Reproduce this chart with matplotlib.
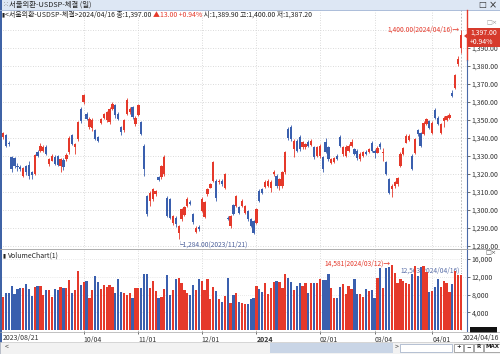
import matplotlib
matplotlib.use('Agg')
import matplotlib.pyplot as plt
from matplotlib.patches import Rectangle, Polygon

plt.rcParams['font.family'] = ['Noto Sans CJK KR', 'DejaVu Sans']

W, H = 500, 354

# 일봉 OHLC (2023/08/21 ~ 2024/04/16)
opens = [1340.5, 1341.4, 1337.5, 1329.3, 1328.7, 1324.6, 1324.0, 1319.1, 1324.6, 1325.2,
         1320.9, 1320.0, 1332.5, 1333.0, 1333.0, 1334.9, 1325.6, 1327.5, 1329.3, 1329.9,
         1324.6, 1328.0, 1328.4, 1332.1, 1341.4, 1335.1, 1339.5, 1355.9, 1360.0, 1353.5,
         1346.1, 1345.5, 1344.2, 1340.5, 1348.5, 1351.1, 1349.8, 1348.8, 1356.3, 1358.2,
         1353.5, 1346.1, 1344.2, 1353.5, 1354.4, 1357.2, 1347.9, 1352.6, 1348.8, 1335.8,
         1307.9, 1305.1, 1306.0, 1308.8, 1318.1, 1318.1, 1320.0, 1306.9, 1306.0, 1292.6,
         1295.8, 1287.4, 1295.2, 1297.3, 1302.3, 1304.6, 1297.6, 1287.8, 1290.7, 1299.5,
         1296.3, 1308.8, 1312.5, 1316.3, 1316.3, 1315.3, 1316.3, 1312.5, 1295.8, 1291.1,
         1302.7, 1302.3, 1301.4, 1302.3, 1298.6, 1299.5, 1294.8, 1293.9, 1293.0, 1310.7,
         1311.6, 1312.9, 1313.5, 1312.5, 1320.0, 1319.1, 1313.5, 1313.5, 1320.9, 1345.1,
         1346.1, 1333.9, 1338.6, 1340.5, 1334.9, 1334.9, 1338.0, 1336.2, 1334.9, 1330.2,
         1330.2, 1329.3, 1337.7, 1334.9, 1326.1, 1326.9, 1330.2, 1340.5, 1331.2, 1330.2,
         1333.0, 1335.8, 1333.9, 1333.0, 1328.4, 1330.2, 1332.5, 1332.1, 1337.3, 1333.0,
         1331.9, 1336.7, 1331.5, 1326.5, 1317.2, 1311.6, 1313.5, 1314.4, 1324.6, 1331.2,
         1337.5, 1338.8, 1330.0, 1331.9, 1344.2, 1342.8, 1342.0, 1347.6, 1349.4, 1343.0,
         1355.3, 1351.3, 1343.0, 1349.2, 1350.0, 1351.0, 1365.0, 1367.9, 1381.1, 1389.9]
highs = [1343.5, 1342.0, 1338.5, 1330.2, 1329.5, 1326.0, 1325.0, 1324.0, 1325.2, 1327.5,
         1321.5, 1331.0, 1333.5, 1337.5, 1336.0, 1336.0, 1329.0, 1331.0, 1330.5, 1330.5,
         1329.0, 1329.0, 1331.5, 1341.0, 1342.0, 1337.0, 1349.5, 1357.0, 1364.5, 1354.5,
         1351.5, 1351.0, 1345.0, 1341.2, 1351.2, 1354.0, 1355.0, 1357.0, 1360.0, 1359.0,
         1354.5, 1346.8, 1350.5, 1362.0, 1357.0, 1358.0, 1352.0, 1359.0, 1349.5, 1336.5,
         1308.5, 1310.5, 1312.5, 1311.2, 1318.8, 1325.2, 1330.5, 1308.0, 1306.8, 1297.5,
         1296.5, 1291.8, 1301.2, 1302.5, 1307.0, 1305.5, 1298.5, 1291.0, 1291.5, 1307.0,
         1305.0, 1312.5, 1315.0, 1327.2, 1317.5, 1317.0, 1317.0, 1320.8, 1296.5, 1297.3,
         1303.5, 1308.6, 1302.0, 1306.0, 1303.0, 1300.2, 1295.5, 1294.5, 1301.0, 1311.5,
         1312.5, 1316.5, 1317.0, 1316.5, 1322.0, 1320.0, 1318.0, 1321.5, 1332.8, 1346.0,
         1347.0, 1339.5, 1339.5, 1341.5, 1338.5, 1337.5, 1339.0, 1339.5, 1335.5, 1335.5,
         1336.5, 1330.0, 1340.0, 1335.5, 1329.0, 1329.5, 1331.0, 1341.5, 1335.5, 1336.0,
         1336.5, 1339.5, 1334.5, 1333.8, 1332.0, 1333.0, 1333.2, 1334.5, 1338.5, 1334.0,
         1335.5, 1338.0, 1334.5, 1327.5, 1318.0, 1314.2, 1316.0, 1318.5, 1332.0, 1335.0,
         1342.0, 1342.0, 1331.0, 1340.2, 1345.0, 1343.5, 1349.2, 1351.0, 1350.0, 1349.2,
         1356.5, 1352.0, 1348.2, 1352.0, 1352.8, 1353.8, 1366.5, 1375.8, 1385.4, 1400.0]
lows = [1339.5, 1335.0, 1335.5, 1321.0, 1323.5, 1321.5, 1321.8, 1318.5, 1319.5, 1317.5,
        1317.2, 1319.5, 1329.5, 1332.5, 1332.0, 1330.5, 1324.5, 1327.0, 1324.8, 1324.5,
        1321.0, 1322.0, 1327.5, 1331.0, 1336.0, 1331.0, 1338.5, 1348.5, 1359.0, 1349.8,
        1345.0, 1344.0, 1338.8, 1338.0, 1348.0, 1350.5, 1349.0, 1348.0, 1355.5, 1351.0,
        1350.0, 1341.5, 1343.5, 1353.0, 1353.5, 1350.5, 1346.5, 1352.0, 1341.5, 1319.0,
        1296.8, 1302.5, 1305.0, 1308.0, 1316.0, 1317.5, 1319.0, 1296.0, 1295.0, 1291.5,
        1290.5, 1284.0, 1294.0, 1296.5, 1301.5, 1302.8, 1292.5, 1287.0, 1288.5, 1298.8,
        1295.5, 1308.0, 1312.0, 1315.5, 1305.0, 1314.5, 1313.5, 1311.8, 1294.5, 1290.2,
        1297.0, 1301.5, 1298.0, 1301.6, 1298.0, 1294.0, 1290.5, 1286.8, 1292.0, 1304.5,
        1309.0, 1312.0, 1312.8, 1310.0, 1319.0, 1312.5, 1311.0, 1312.5, 1320.0, 1339.0,
        1338.5, 1329.5, 1332.0, 1333.0, 1334.0, 1334.0, 1335.0, 1335.5, 1328.5, 1329.5,
        1329.0, 1321.0, 1331.5, 1327.5, 1325.5, 1326.0, 1328.0, 1335.0, 1330.0, 1329.5,
        1332.5, 1335.0, 1330.5, 1328.0, 1327.5, 1329.5, 1330.5, 1331.5, 1332.5, 1329.0,
        1331.5, 1334.0, 1327.0, 1319.5, 1309.0, 1307.0, 1312.5, 1313.5, 1324.0, 1330.5,
        1337.0, 1338.2, 1322.0, 1331.0, 1341.0, 1334.8, 1341.5, 1347.0, 1345.0, 1342.5,
        1350.8, 1347.0, 1342.5, 1346.0, 1349.5, 1350.5, 1362.5, 1367.0, 1380.0, 1387.2]
closes = [1342.7, 1335.8, 1336.6, 1322.8, 1324.6, 1323.7, 1322.8, 1323.3, 1320.9, 1319.1,
          1319.4, 1330.6, 1330.2, 1335.8, 1334.9, 1331.2, 1328.4, 1330.2, 1325.6, 1325.0,
          1328.4, 1323.7, 1330.6, 1339.9, 1336.7, 1336.6, 1348.8, 1349.2, 1363.7, 1350.7,
          1350.7, 1350.0, 1339.5, 1338.6, 1350.7, 1353.5, 1354.4, 1356.3, 1359.1, 1352.6,
          1350.7, 1343.3, 1349.8, 1361.0, 1356.3, 1351.6, 1351.1, 1358.2, 1342.3, 1322.8,
          1297.6, 1309.7, 1311.6, 1310.7, 1316.8, 1324.6, 1329.3, 1296.7, 1295.8, 1296.7,
          1292.0, 1291.1, 1300.4, 1301.7, 1306.0, 1303.6, 1293.4, 1290.2, 1289.3, 1306.0,
          1304.2, 1311.6, 1314.4, 1326.5, 1306.9, 1316.3, 1314.4, 1320.0, 1295.2, 1296.7,
          1297.6, 1307.9, 1298.6, 1305.1, 1302.3, 1294.8, 1291.1, 1287.4, 1300.4, 1305.1,
          1309.7, 1315.7, 1316.3, 1315.7, 1320.9, 1313.5, 1317.2, 1320.9, 1332.1, 1339.9,
          1339.5, 1338.6, 1333.0, 1333.9, 1337.7, 1336.7, 1335.8, 1338.6, 1329.3, 1334.9,
          1335.8, 1322.8, 1332.1, 1328.4, 1328.4, 1328.7, 1328.4, 1335.8, 1334.9, 1334.9,
          1335.8, 1337.7, 1331.2, 1328.7, 1331.2, 1332.1, 1331.2, 1333.9, 1333.0, 1331.8,
          1334.6, 1334.9, 1332.0, 1320.0, 1309.7, 1313.5, 1315.3, 1317.6, 1331.2, 1334.3,
          1341.2, 1341.2, 1322.7, 1339.3, 1342.0, 1335.4, 1348.5, 1350.3, 1345.8, 1348.5,
          1351.3, 1347.6, 1347.6, 1351.3, 1352.0, 1353.0, 1363.2, 1375.2, 1384.0, 1397.0]
volumes = [7340, 8239, 8239, 9962, 8014, 9138, 9363, 9512, 10336, 9213,
           7640, 9587, 9887, 9887, 7865, 8988, 8988, 7340, 9213, 8988,
           9737, 9363, 9512, 11235, 8389, 8988, 13257, 10112, 10861, 11010,
           7116, 8988, 12134, 10711, 9138, 10112, 9737, 10112, 9587, 8239,
           11460, 8614, 8389, 7865, 8239, 7116, 9512, 9512, 9363, 12733,
           12583, 9363, 11085, 8838, 7265, 7340, 9138, 12508, 7865, 8988,
           11385, 11610, 10636, 8988, 8389, 7865, 10112, 8988, 11385, 11085,
           8988, 11385, 6891, 9737, 8763, 6891, 6292, 7640, 11834, 6142,
           7865, 8239, 6367, 5992, 5767, 5767, 6966, 7265, 9887, 9138,
           8614, 10636, 8089, 9363, 10861, 11010, 10711, 9363, 12583, 11759,
           10711, 8988, 9962, 10486, 9962, 10636, 8389, 10636, 10486, 10486,
           11460, 11235, 11235, 12733, 9512, 7116, 7116, 9587, 10261, 8089,
           9887, 9138, 11385, 8089, 8089, 7490, 9138, 8763, 8988, 7116,
           11834, 14081, 9500, 13900, 14300, 14581, 12900, 10500, 11500, 11100,
           10700, 10300, 12600, 14400, 12200, 14100, 14400, 13000, 8500, 8900,
           9700, 11500, 9800, 11100, 10700, 8600, 10300, 13300, 12500, 12400]

date_ticks = [28, 47, 69, 88, 110, 129, 149]
date_labels = ['10/04', '11/01', '12/01', '2024', '02/01', '03/04', '04/01']
price_ticks = [1280, 1290, 1300, 1310, 1320, 1330, 1340, 1350, 1360, 1370, 1380, 1390]
vol_ticks = [4000, 8000, 12000, 16000]

RED = '#e5392b'
BLUE = '#3a5fae'
n = len(closes)
idx = list(range(n))
colors = [RED if c >= o else BLUE for o, c in zip(opens, closes)]


def frect(x0, y0, x1, y1):
    return [x0 / W, 1 - y1 / H, (x1 - x0) / W, (y1 - y0) / H]


def ftext(x, y, s, **kw):
    kw.setdefault('fontsize', 5)
    kw.setdefault('va', 'center')
    return fig.text(x / W, 1 - y / H, s, **kw)


fig = plt.figure(figsize=(5, 3.54), dpi=100)
fig.patch.set_facecolor('white')

# ---- price panel ----
ax = fig.add_axes(frect(0, 10, 467, 248))
ax.set_xlim(-1.04, 161.1)
ax.set_ylim(1278.9, 1411.1)
for p in price_ticks + [1400]:
    ax.axhline(p, color='#cfcfcf', lw=0.6, ls=(0, (1, 2)), zorder=0)
for t in date_ticks:
    ax.axvline(t, color='#cfcfcf', lw=0.6, ls=(0, (1, 2)), zorder=0)
ax.axvline(n - 1, color='#b0b0b0', lw=0.6, ls=(0, (2, 2)), zorder=0)
ax.vlines(idx, lows, highs, colors=colors, lw=0.6, zorder=2)
body_bottom = [min(o, c) for o, c in zip(opens, closes)]
body_height = [max(abs(c - o), 0.4) for o, c in zip(opens, closes)]
ax.bar(idx, body_height, bottom=body_bottom, width=0.8, color=colors, lw=0, zorder=3)
ax.yaxis.tick_right()
ax.set_yticks(price_ticks)
ax.set_yticklabels([f'{p:,.2f}' for p in price_ticks])
ax.tick_params(axis='y', labelsize=5, length=2, pad=1.5, colors='#333333', width=0.5)
ax.set_xticks([])
for s in ax.spines.values():
    s.set_visible(False)

hi_i = highs.index(max(highs))
lo_i = lows.index(min(lows))
ax.annotate(f'{max(highs):,.2f}(2024/04/16)\u2192', (hi_i, max(highs)), xytext=(-1, 0),
            textcoords='offset points', ha='right', va='center', fontsize=4.8, color=RED)
ax.annotate(f'\u2514{min(lows):,.2f}(2023/11/21)', (lo_i, min(lows)), xytext=(-1.5, -4),
            textcoords='offset points', ha='left', va='center', fontsize=4.8, color='#4d619c')

# ---- volume panel ----
vx = fig.add_axes(frect(0, 250, 467, 331))
vx.set_xlim(-1.04, 161.1)
vx.set_ylim(-200, 18020)
for v in vol_ticks:
    vx.axhline(v, color='#d5d5d5', lw=0.5, ls=(0, (1, 2)), zorder=0)
for t in date_ticks:
    vx.axvline(t, color='#cfcfcf', lw=0.6, ls=(0, (1, 2)), zorder=0)
vx.axvline(n - 1, color='#909090', lw=0.6, ls=(0, (1, 2)), zorder=0)
vx.text(138, 13300, '12,563(2024/04/16)', fontsize=4.8, color='#5a6fa8', va='center', zorder=1)
vx.bar(idx, volumes, width=0.78, color=colors, lw=0, zorder=2)
vmax_i = volumes.index(max(volumes))
vx.annotate(f'{max(volumes):,}(2024/03/12)\u2192', (vmax_i, max(volumes)), xytext=(-1, 1),
            textcoords='offset points', ha='right', va='center', fontsize=4.8, color=RED, zorder=4)
vx.yaxis.tick_right()
vx.set_yticks(vol_ticks)
vx.set_yticklabels([f'{v:,}' for v in vol_ticks])
vx.tick_params(axis='y', labelsize=5, length=2, pad=1.5, colors='#333333', width=0.5)
vx.set_xticks(date_ticks)
vx.set_xticklabels(date_labels)
vx.tick_params(axis='x', labelsize=5, length=2, pad=1.5, colors='#333333', width=0.5)
for lab in vx.get_xticklabels():
    lab.set_ha('left')
    if lab.get_text() == '2024':
        lab.set_fontweight('bold')
for s in vx.spines.values():
    s.set_visible(False)
vx.text(0.005, 0.93, '\u25ae', transform=vx.transAxes, fontsize=4, color='#222222',
        va='center', family='DejaVu Sans')
vx.text(0.018, 0.93, 'VolumeChart(1)', transform=vx.transAxes, fontsize=5,
        color='#222222', va='center')

# ---- frame, title bar, separators ----
fig.add_artist(Rectangle((0, 1 - 10 / H), 1, 10 / H, transform=fig.transFigure,
                         facecolor='#dde7f4', edgecolor='none'))
fig.add_artist(plt.Line2D([0, 1], [1 - 10 / H] * 2, transform=fig.transFigure,
                          color='#9db2d3', lw=0.6))
fig.add_artist(Rectangle((0, 0), 2 / W, 1, transform=fig.transFigure,
                         facecolor='#3f63a6', edgecolor='none'))
fig.add_artist(plt.Line2D([467 / W] * 2, [1 - 60 / H, 1 - 10 / H], transform=fig.transFigure,
                          color=RED, lw=1.0))
fig.add_artist(plt.Line2D([467 / W] * 2, [1 - 331 / H, 1 - 60 / H], transform=fig.transFigure,
                          color='#4a6aa8', lw=0.8))
fig.add_artist(plt.Line2D([0, 1], [1 - 249 / H] * 2, transform=fig.transFigure,
                          color='#a0a0a0', lw=0.6))
fig.add_artist(plt.Line2D([0, 1], [1 - 331.5 / H] * 2, transform=fig.transFigure,
                          color='#a8a8a8', lw=0.5))

ftext(3, 5, '\u2059', fontsize=5, color='#777777', family='DejaVu Sans')
ftext(9, 5, '서울외환-USDSP-체결 (일)', fontsize=5.3, color='#222222')
ftext(478, 5, '\u25a1', fontsize=6, color='#333333', family='DejaVu Sans')
ftext(489, 5, '\u00d7', fontsize=7, color='#333333', family='DejaVu Sans')

# info line with colored change part
renderer = fig.canvas.get_renderer()
x = 2
for s, col, fam in [('\u25ae', '#222222', 'DejaVu Sans'),
                    ('<서울외환-USDSP-체결>2024/04/16 종:1,397.00 ', '#222222', None),
                    ('\u25b213.00 +0.94%', RED, None),
                    (' 시:1,389.90 고:1,400.00 저:1,387.20', '#222222', None)]:
    kw = {'family': fam} if fam else {}
    t = ftext(x, 15, s, fontsize=5 if fam is None else 4, color=col, **kw)
    bb = t.get_window_extent(renderer)
    x += bb.width * 500 / fig.bbox.width

# current price box on the right axis
fig.add_artist(Polygon([[464 / W, 1 - 36 / H], [468 / W, 1 - 33 / H], [468 / W, 1 - 39 / H]],
                       closed=True, transform=fig.transFigure, facecolor='#d63a2c',
                       edgecolor='none'))
fig.add_artist(Rectangle((468 / W, 1 - 47 / H), 32 / W, 19 / H, transform=fig.transFigure,
                         facecolor='#d63a2c', edgecolor='none'))
ftext(470, 33, '1,397.00', fontsize=5, color='white')
ftext(470, 42, '+0.94%', fontsize=5, color='white')
ftext(485, 253, '\u25a1\u00d7', fontsize=4.5, color='#555555', family='DejaVu Sans')
ftext(486, 23, '\u25a1\u00d7', fontsize=4.5, color='#999999', family='DejaVu Sans')

# x axis end labels
ftext(3, 338, '2023/08/21', fontsize=5, color='#333333')
ftext(499, 338, '2024/04/16', fontsize=5, color='#333333', ha='right')
fig.add_artist(Rectangle((470 / W, 1 - 333 / H), 27 / W, 6 / H, transform=fig.transFigure,
                         facecolor='#111111', edgecolor='none'))

# scroll bar
fig.add_artist(Rectangle((0, 0), 1, 12 / H, transform=fig.transFigure,
                         facecolor='#f2f2f2', edgecolor='#c8c8c8', lw=0.5))
fig.add_artist(Rectangle((270 / W, 1 / H), 123 / W, 10 / H, transform=fig.transFigure,
                         facecolor='#c9d5e6', edgecolor='none'))
fig.add_artist(Rectangle((400 / W, 2 / H), 52 / W, 8 / H, transform=fig.transFigure,
                         facecolor='white', edgecolor='#9aaac4', lw=0.5))
ftext(5, 347, '<', fontsize=5, color='#444444')
ftext(395, 347, '>', fontsize=5, color='#444444')
x0 = 454
for lab, w in [('+', 9), ('\u2212', 9), ('R', 9), ('MAX', 16)]:
    fig.add_artist(Rectangle((x0 / W, 2 / H), w / W, 8 / H, transform=fig.transFigure,
                             facecolor='white', edgecolor='#888888', lw=0.5))
    ftext(x0 + w / 2, 347, lab, fontsize=4, color='#222222', ha='center',
          fontweight='bold', family='DejaVu Sans')
    x0 += w + 1

fig.savefig('out.png', dpi=100)
